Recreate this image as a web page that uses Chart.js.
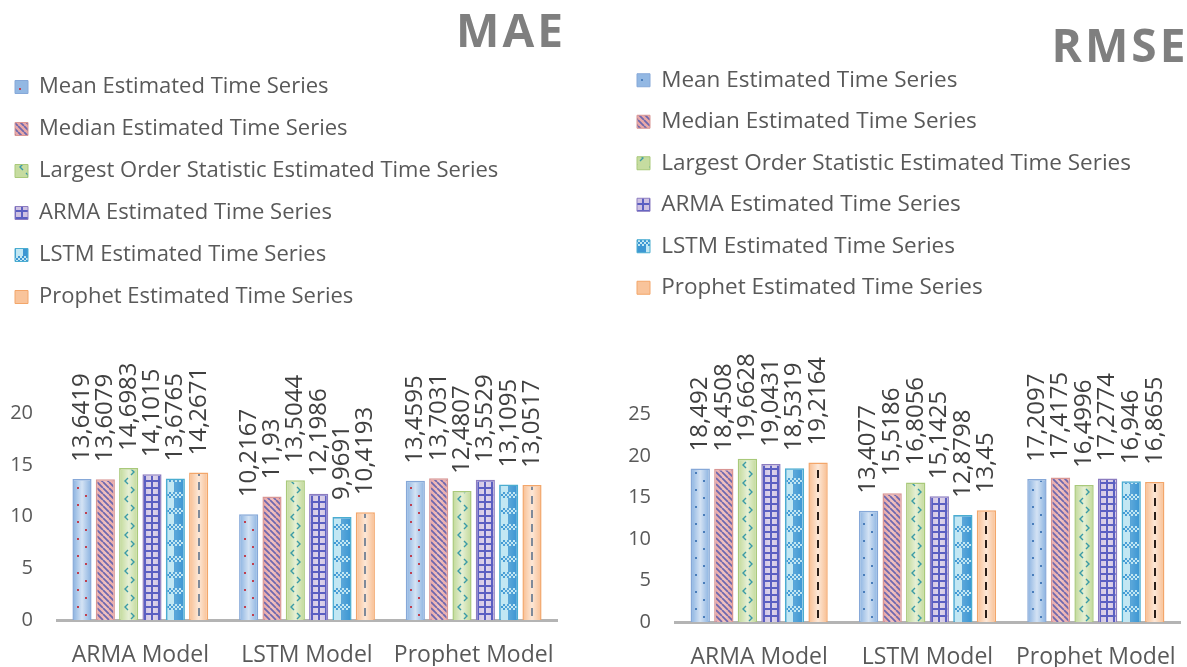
<!DOCTYPE html>
<html>
<head>
<meta charset="utf-8">
<script src="https://cdn.jsdelivr.net/npm/chart.js@4.4.1/dist/chart.umd.min.js"></script>
<style>
  html, body { margin: 0; padding: 0; background: #fff; width: 1187px; height: 667px; overflow: hidden; }
  #wrap { position: relative; width: 1187px; height: 667px; }
  canvas { position: absolute; top: 0; }
  .ttl { position: absolute; font-family: 'Open Sans', sans-serif; font-weight: 700; color: #7f7f7f;
         letter-spacing: 3px; white-space: nowrap; text-align: center; width: 220px; font-size: 46px;
         line-height: 46px; z-index: 2; }
</style>
</head>
<body>
<div id="wrap">
  <canvas id="maeChart" width="560" height="667" style="left:0"></canvas>
  <canvas id="rmseChart" width="573" height="667" style="left:614px"></canvas>
  <div class="ttl" style="left:401px; top:6px;">MAE</div>
  <div class="ttl" style="left:1010px; top:21px;">RMSE</div>
</div>
<script>
// ---- data ----
const categories = ['ARMA Model', 'LSTM Model', 'Prophet Model'];
const seriesNames = [
  'Mean Estimated Time Series',
  'Median Estimated Time Series',
  'Largest Order Statistic Estimated Time Series',
  'ARMA Estimated Time Series',
  'LSTM Estimated Time Series',
  'Prophet Estimated Time Series'
];

const maeMean     = [13.6419, 10.2167, 13.4595];
const maeMedian   = [13.6079, 11.93,   13.7031];
const maeLargest  = [14.6983, 13.5044, 12.4807];
const maeArma     = [14.1015, 12.1986, 13.5529];
const maeLstm     = [13.6765, 9.9691,  13.1095];
const maeProphet  = [14.2671, 10.4193, 13.0517];

const rmseMean    = [18.492,  13.4077, 17.2097];
const rmseMedian  = [18.4508, 15.5186, 17.4175];
const rmseLargest = [19.6628, 16.8056, 16.4996];
const rmseArma    = [19.0431, 15.1425, 17.2774];
const rmseLstm    = [18.5319, 12.8798, 16.946];
const rmseProphet = [19.2164, 13.45,   16.8655];

const maeTicks  = [0, 5, 10, 15, 20];
const rmseTicks = [0, 5, 10, 15, 20, 25];

Chart.defaults.font.family = "'Open Sans', sans-serif";

// ---- fill patterns ----
function makeTile(w, h, base, draw) {
  const c = document.createElement('canvas');
  c.width = w; c.height = h;
  const g = c.getContext('2d');
  if (base) { g.fillStyle = base; g.fillRect(0, 0, w, h); }
  draw(g);
  return c;
}

function skinSet(dotColor, dashColor) {
  const defs = [
    { base: '#93B8E3', border: '#86A8D8', glow: 0.6, w: 16, h: 17,
      draw: g => { g.fillStyle = dotColor; g.fillRect(3, 3, 2, 2); g.fillRect(11, 11, 2, 2); } },
    { base: '#EBA9A8', border: '#D99694', glow: 0.3, w: 6, h: 6,
      draw: g => { g.strokeStyle = '#6E68AE'; g.lineWidth = 1.8; g.beginPath();
        [-6, 0, 6].forEach(k => { g.moveTo(k, 0); g.lineTo(k + 6, 6); }); g.stroke(); } },
    { base: '#C6DCA0', border: '#A9C97A', glow: 0.55, w: 16, h: 18,
      draw: g => { g.strokeStyle = '#3A9AA6'; g.lineWidth = 1.4; g.beginPath();
        g.moveTo(7, 2); g.lineTo(4, 5); g.lineTo(7, 8);
        g.moveTo(10, 11); g.lineTo(13, 14); g.lineTo(10, 17); g.stroke(); } },
    { base: '#CFC2E2', border: '#8C7CC0', glow: 0.35, w: 7, h: 7,
      draw: g => { g.fillStyle = '#5B5FC2'; g.fillRect(0, 0, 7, 2); g.fillRect(0, 0, 2, 7); } },
    { base: '#3D97D3', border: '#4AADD0', glow: 0.15, w: 16, h: 16,
      draw: g => { g.fillStyle = '#C2E7F3';
        for (let y = 0; y < 6; y += 2) for (let x = 0; x < 16; x += 2)
          if (((x + y) / 2) % 2 === 0) g.fillRect(x, y, 2, 2);
        g.fillRect(0, 6, 7, 10); } },
    { base: '#F9C49B', border: '#F3A66A', glow: 0.6, w: 40, h: 14, center: true,
      draw: g => { g.fillStyle = dashColor; g.fillRect(0, 2, 2, 8); } }
  ];
  return defs.map(d => Object.assign({}, d, {
    marks: makeTile(d.w, d.h, null, d.draw),
    swatch: makeTile(d.w, d.h, d.base, d.draw)
  }));
}

// paints the gradient sheen and pattern marks inside every bar
const barSkin = {
  id: 'barSkin',
  afterDatasetDraw(chart, args) {
    const ds = chart.data.datasets[args.index];
    const st = ds.skin;
    const ctx = chart.ctx;
    const bw = ds.borderWidth;
    args.meta.data.forEach(bar => {
      const { x, y, base, width } = bar.getProps(['x', 'y', 'base', 'width'], true);
      const l = x - width / 2 + bw, r = x + width / 2 - bw, t = y + bw, b = base;
      ctx.save();
      ctx.beginPath(); ctx.rect(l, t, r - l, b - t); ctx.clip();
      const gr = ctx.createLinearGradient(l, 0, r, 0);
      gr.addColorStop(0, 'rgba(255,255,255,0)');
      gr.addColorStop(0.5, 'rgba(255,255,255,' + st.glow + ')');
      gr.addColorStop(1, 'rgba(255,255,255,0)');
      ctx.fillStyle = gr; ctx.fillRect(l, t, r - l, b - t);
      const p = ctx.createPattern(st.marks, 'repeat');
      p.setTransform(new DOMMatrix().translate(st.center ? Math.round(x - 1) : Math.round(l), Math.round(b)));
      ctx.fillStyle = p; ctx.fillRect(l, t, r - l, b - t);
      ctx.restore();
    });
  }
};

// vertical value labels above the bars
const valueLabels = {
  id: 'valueLabels',
  afterDatasetsDraw(chart, args, opts) {
    const ctx = chart.ctx;
    ctx.save();
    ctx.font = opts.size + "px 'Open Sans', sans-serif";
    ctx.fillStyle = opts.color;
    ctx.textAlign = 'left';
    ctx.textBaseline = 'middle';
    chart.data.datasets.forEach((ds, i) => {
      chart.getDatasetMeta(i).data.forEach((bar, j) => {
        ctx.save();
        ctx.translate(bar.x, bar.y - opts.gap);
        ctx.rotate(-Math.PI / 2);
        ctx.fillText(String(ds.data[j]).replace('.', ','), 0, 0);
        ctx.restore();
      });
    });
    ctx.restore();
  }
};

function buildChart(id, series, ticks, yMax, skins, pad, yWidth, legendSize, rowPad) {
  return new Chart(document.getElementById(id), {
    type: 'bar',
    data: {
      labels: categories,
      datasets: series.map((d, i) => ({
        label: seriesNames[i],
        data: d,
        skin: skins[i],
        backgroundColor: skins[i].base,
        borderColor: skins[i].border,
        borderWidth: 1.5,
        categoryPercentage: 0.84,
        barPercentage: 0.82
      }))
    },
    options: {
      responsive: false,
      animation: false,
      devicePixelRatio: 1,
      layout: { padding: pad },
      plugins: {
        legend: {
          position: 'top',
          align: 'start',
          labels: {
            font: { size: legendSize },
            color: '#595959',
            boxWidth: 13,
            boxHeight: 13,
            padding: rowPad,
            generateLabels(chart) {
              const items = Chart.defaults.plugins.legend.labels.generateLabels(chart);
              items.forEach((it, i) => {
                it.fillStyle = chart.ctx.createPattern(skins[i].swatch, 'repeat');
                it.lineWidth = 1;
              });
              return items;
            }
          }
        },
        tooltip: { enabled: false },
        valueLabels: { size: 24, color: '#404040', gap: 17 }
      },
      scales: {
        x: {
          grid: { display: false, drawTicks: true, tickLength: 22 },
          border: { display: true, color: '#B4B4B4', width: 3 },
          ticks: { font: { size: 23 }, color: '#595959', padding: 0 },
          afterFit: ax => { ax.height = 46; }
        },
        y: {
          min: 0,
          max: yMax,
          grid: { display: false, drawTicks: false },
          border: { display: false },
          ticks: { font: { size: 20 }, color: '#595959', padding: 24 },
          afterBuildTicks: ax => { ax.ticks = ticks.map(v => ({ value: v })); },
          afterFit: ax => { ax.width = yWidth; }
        }
      }
    },
    plugins: [barSkin, valueLabels]
  });
}

buildChart('maeChart',
  [maeMean, maeMedian, maeLargest, maeArma, maeLstm, maeProphet],
  maeTicks, 29.2, skinSet('#C0404F', '#7E8A9A'),
  { left: -5, right: 3, top: 56, bottom: 1 }, 62, 22, 20);

buildChart('rmseChart',
  [rmseMean, rmseMedian, rmseLargest, rmseArma, rmseLstm, rmseProphet],
  rmseTicks, 37.7, skinSet('#4A7EBB', '#2A1E18'),
  { left: 4, right: 7, top: 50, bottom: -1 }, 57, 22.5, 19);
</script>
</body>
</html>
